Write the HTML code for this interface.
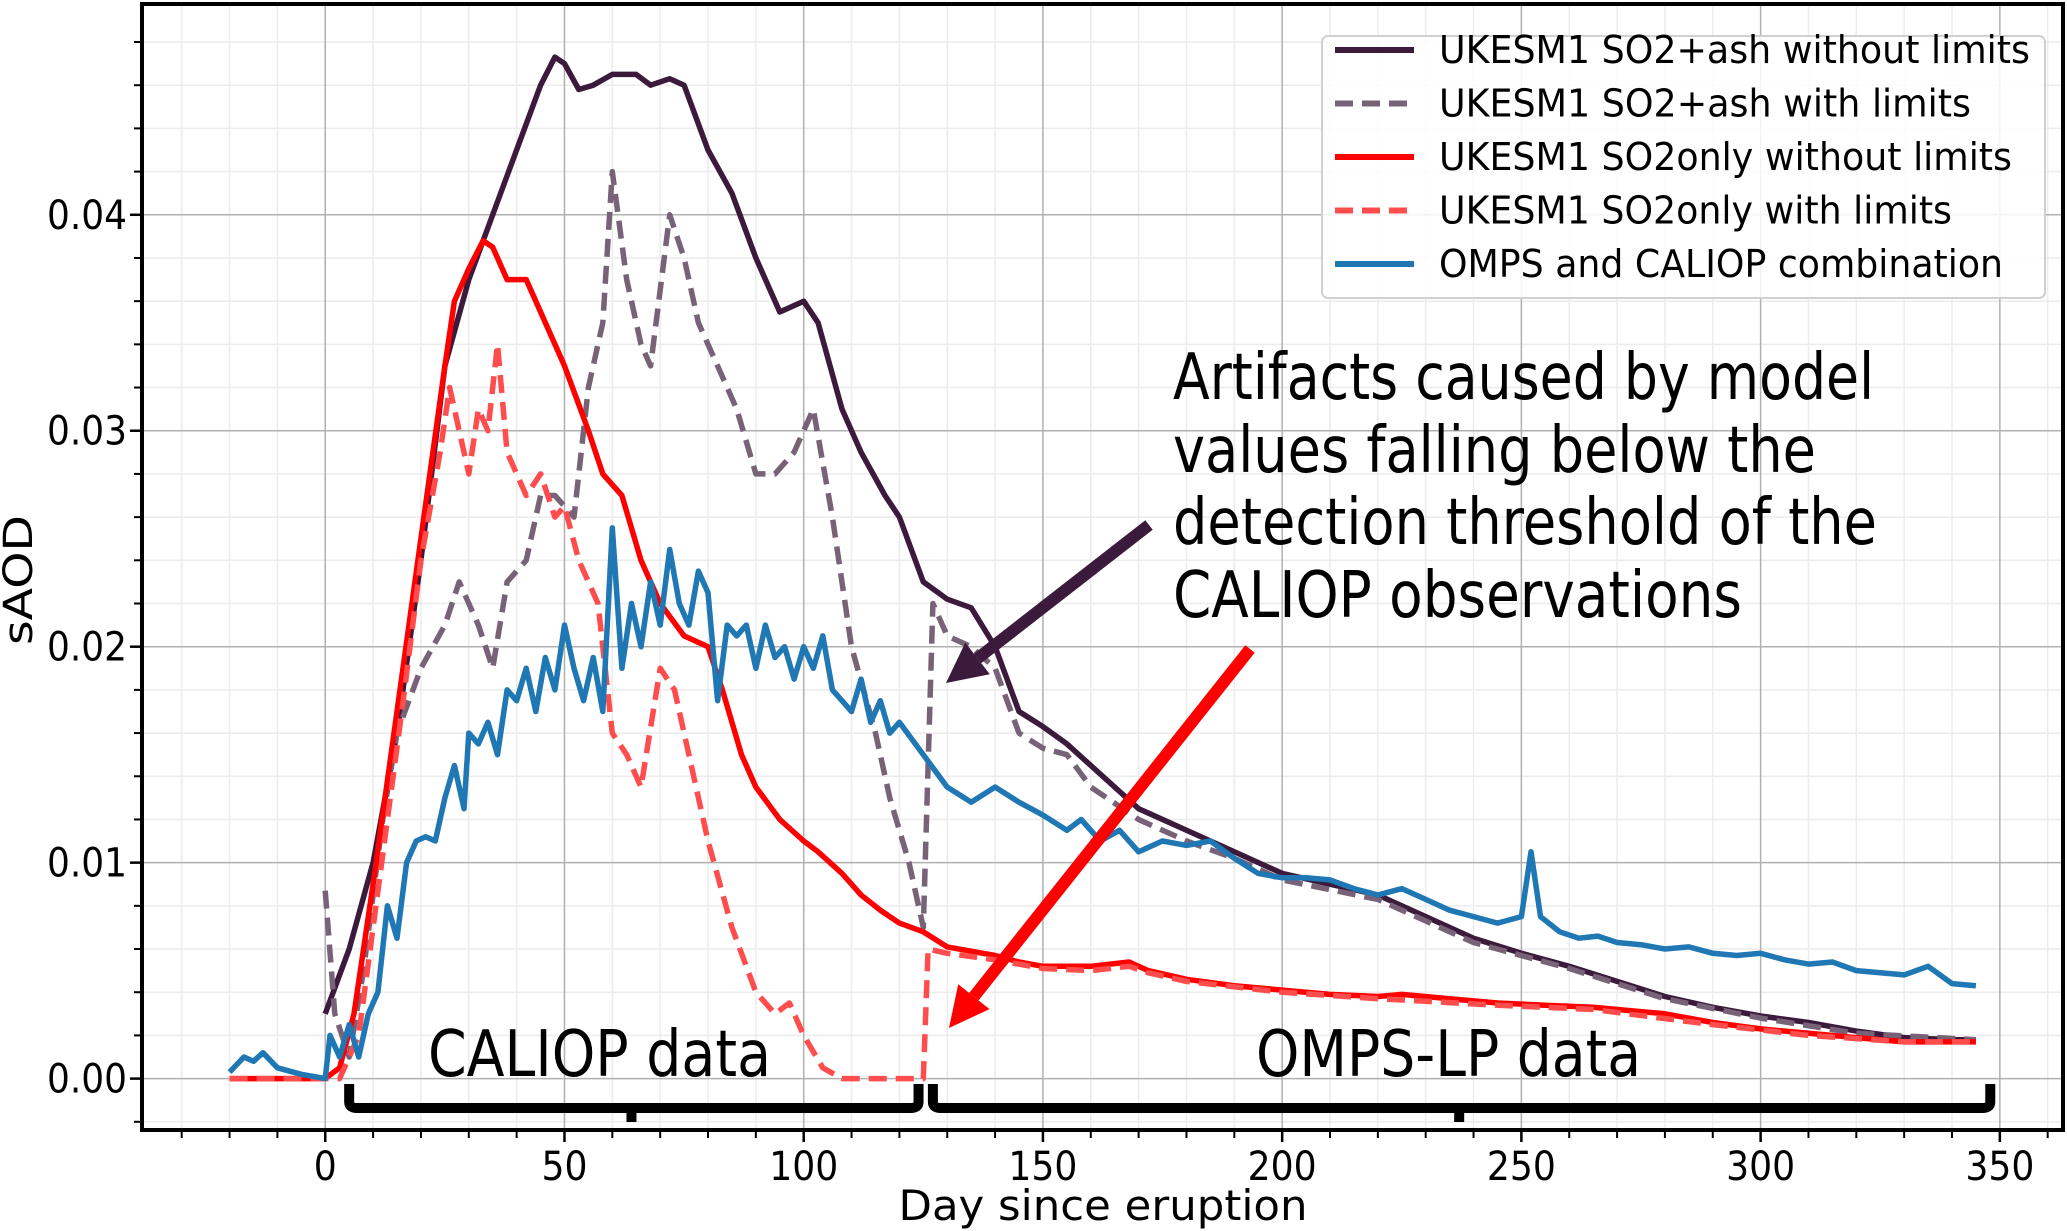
<!DOCTYPE html>
<html><head><meta charset="utf-8"><style>
html,body{margin:0;padding:0;background:#fff;}
svg{display:block;font-family:"DejaVu Sans","Liberation Sans",sans-serif;}
</style></head><body>
<svg id="chart" width="2067" height="1231" viewBox="0 0 2067 1231" xmlns="http://www.w3.org/2000/svg">
<g id="grid"></g>
<g id="series"></g>
<g id="axes"></g>
<g id="annot"></g>
<g id="legend"></g>
</svg>
<script>
const xTicks=[0,50,100,150,200,250,300,350];
const yTicks=[0,0.01,0.02,0.03,0.04];
const yTickLabels=["0.00","0.01","0.02","0.03","0.04"];
const ashNoLimDays=[0,5,10,15,20,25,30,35,40,45,48,50,53,56,60,65,68,72,75,80,85,90,95,100,103,108,112,117,120,125,130,135,140,145,150,155,160,170,180,190,200,210,220,230,240,250,260,270,280,290,300,310,320,330,340,345];
const ashNoLimVals=[0.003,0.006,0.010,0.016,0.024,0.033,0.037,0.040,0.043,0.046,0.0473,0.047,0.0458,0.046,0.0465,0.0465,0.046,0.0463,0.046,0.043,0.041,0.038,0.0355,0.036,0.035,0.031,0.029,0.027,0.026,0.023,0.0222,0.0218,0.020,0.017,0.0163,0.0155,0.0145,0.0125,0.0115,0.0105,0.0095,0.009,0.0085,0.0075,0.0065,0.0058,0.0052,0.0045,0.0038,0.0033,0.0029,0.0026,0.0022,0.0019,0.0018,0.0018];
const ashLimDays=[0,2,5,8,12,15,20,25,28,32,35,38,42,45,48,52,55,58,60,63,66,68,72,75,78,82,86,90,94,98,102,106,110,115,118,122,125,127,130,135,140,145,150,155,160,170,180,190,200,220,240,260,280,300,320,345];
const ashLimVals=[0.0087,0.003,0.001,0.005,0.012,0.016,0.019,0.021,0.023,0.021,0.019,0.023,0.024,0.027,0.027,0.026,0.032,0.035,0.042,0.037,0.034,0.033,0.040,0.038,0.035,0.033,0.031,0.028,0.028,0.029,0.031,0.026,0.020,0.016,0.013,0.010,0.007,0.022,0.0205,0.020,0.019,0.016,0.0153,0.015,0.0135,0.012,0.011,0.0102,0.0092,0.0083,0.0063,0.0051,0.0037,0.0028,0.0021,0.0018];
const so2NoLimDays=[-20,0,3,6,10,15,20,25,27,30,33,35,38,42,45,50,55,58,62,66,70,75,80,83,87,90,95,100,103,108,112,116,120,125,130,135,140,145,150,160,168,172,180,190,200,210,220,225,235,245,255,265,280,290,300,310,320,330,345];
const so2NoLimVals=[0,0,0.0005,0.003,0.009,0.017,0.025,0.033,0.036,0.0375,0.0388,0.0385,0.037,0.037,0.0355,0.033,0.030,0.028,0.027,0.024,0.022,0.0205,0.020,0.018,0.015,0.0135,0.012,0.011,0.0105,0.0095,0.0085,0.0078,0.0072,0.0068,0.0061,0.0059,0.0057,0.0054,0.0052,0.0052,0.0054,0.005,0.0046,0.0043,0.0041,0.0039,0.0038,0.0039,0.0037,0.0035,0.0034,0.0033,0.003,0.0026,0.0023,0.0021,0.0019,0.0017,0.0017];
const so2LimDays=[-20,3,7,10,13,16,20,24,26,28,30,32,34,36,38,42,45,48,50,53,57,60,63,66,70,73,76,80,85,90,94,97,100,104,108,125,126,130,140,150,160,168,172,180,200,220,245,265,290,310,330,345];
const so2LimVals=[0,0,0.002,0.007,0.012,0.017,0.024,0.029,0.032,0.030,0.028,0.031,0.030,0.034,0.029,0.027,0.028,0.026,0.0265,0.024,0.022,0.016,0.015,0.0135,0.019,0.018,0.015,0.011,0.007,0.004,0.003,0.0035,0.002,0.0005,0,0,0.006,0.0058,0.0055,0.0051,0.005,0.0052,0.0049,0.0045,0.004,0.0037,0.0034,0.0032,0.0025,0.002,0.0017,0.0017];
const obsDays=[-20,-17,-15,-13,-10,-5,0,1,3,5,7,9,11,13,15,17,19,21,23,25,27,29,30,32,34,36,38,40,42,44,46,48,50,52,54,56,58,60,62,64,66,68,70,72,74,76,78,80,82,84,86,88,90,92,94,96,98,100,102,104,106,108,110,112,114,116,118,120,125,130,135,140,145,150,155,158,162,166,170,175,180,185,190,195,200,205,210,215,220,225,230,235,240,245,250,252,254,258,262,266,270,275,280,285,290,295,300,305,310,315,320,325,330,335,340,345];
const obsVals=[0.0003,0.001,0.0008,0.0012,0.0005,0.0002,0,0.002,0.001,0.0025,0.001,0.003,0.004,0.008,0.0065,0.010,0.011,0.0112,0.011,0.013,0.0145,0.0125,0.016,0.0155,0.0165,0.015,0.018,0.0175,0.019,0.017,0.0195,0.018,0.021,0.019,0.0175,0.0195,0.017,0.0255,0.019,0.022,0.020,0.023,0.021,0.0245,0.022,0.021,0.0235,0.0225,0.0175,0.021,0.0205,0.021,0.019,0.021,0.0195,0.020,0.0185,0.020,0.019,0.0205,0.018,0.0175,0.017,0.0185,0.0165,0.0175,0.016,0.0165,0.015,0.0135,0.0128,0.0135,0.0128,0.0122,0.0115,0.012,0.011,0.0115,0.0105,0.011,0.0108,0.011,0.0102,0.0095,0.0093,0.0093,0.0092,0.0088,0.0085,0.0088,0.0083,0.0078,0.0075,0.0072,0.0075,0.0105,0.0075,0.0068,0.0065,0.0066,0.0063,0.0062,0.006,0.0061,0.0058,0.0057,0.0058,0.0055,0.0053,0.0054,0.005,0.0049,0.0048,0.0052,0.0044,0.0043];

const NS="http://www.w3.org/2000/svg";
const L=142,R=2063,T=4,B=1130;
const xMin=-38.3,xMax=363.2,yMin=-0.00238,yMax=0.04976;
function X(d){return L+(d-xMin)/(xMax-xMin)*(R-L);}
function Y(v){return B-(v-yMin)/(yMax-yMin)*(B-T);}
function mk(tag,parent,attrs){const e=document.createElementNS(NS,tag);for(const k in attrs)e.setAttribute(k,attrs[k]);parent.appendChild(e);return e;}
const grid=document.getElementById('grid'),axes=document.getElementById('axes'),ser=document.getElementById('series'),ann=document.getElementById('annot'),leg=document.getElementById('legend');

// minor grid
for(let d=-30;d<=360;d+=10){if(d%50===0)continue;const l=mk('line',grid,{x1:X(d),x2:X(d),y1:T,y2:B,stroke:'#ececec','stroke-width':1.5});
 const t=mk('line',axes,{x1:X(d),x2:X(d),y1:B,y2:B+8,stroke:'#000','stroke-width':2});}
for(let i=-1;i<=24;i++){const v=i*0.002;if(i%5===0)continue;const l=mk('line',grid,{x1:L,x2:R,y1:Y(v),y2:Y(v),stroke:'#ececec','stroke-width':1.5});
 const t=mk('line',axes,{x1:L-8,x2:L,y1:Y(v),y2:Y(v),stroke:'#000','stroke-width':2});}
xTicks.forEach(d=>{const l=mk('line',grid,{x1:X(d),x2:X(d),y1:T,y2:B,stroke:'#b0b0b0','stroke-width':1.5});
 const t=mk('line',axes,{x1:X(d),x2:X(d),y1:B,y2:B+12,stroke:'#000','stroke-width':2.5});
 const s=String(d);const tx=mk('text',axes,{x:X(d),y:1180,'font-size':40,'text-anchor':'middle',textLength:s.length*23,lengthAdjust:'spacingAndGlyphs'});tx.textContent=s;});
yTicks.forEach((v,i)=>{const l=mk('line',grid,{x1:L,x2:R,y1:Y(v),y2:Y(v),stroke:'#b0b0b0','stroke-width':1.5});
 const t=mk('line',axes,{x1:L-12,x2:L,y1:Y(v),y2:Y(v),stroke:'#000','stroke-width':2.5});
 const tx=mk('text',axes,{x:127,y:Y(v)+14,'font-size':40,'text-anchor':'end',textLength:80,lengthAdjust:'spacingAndGlyphs'});tx.textContent=yTickLabels[i];});
const fr=mk('rect',axes,{x:L,y:T,width:R-L,height:B-T,fill:'none',stroke:'#000','stroke-width':4});
const xt=mk('text',axes,{x:1103,y:1220,'font-size':42,'text-anchor':'middle',textLength:409,lengthAdjust:'spacingAndGlyphs'});xt.textContent='Day since eruption';
const yt=mk('text',axes,{x:0,y:0,'font-size':40,'text-anchor':'middle',transform:'translate(32,580) rotate(-90)',textLength:130,lengthAdjust:'spacingAndGlyphs'});yt.textContent='sAOD';

function path(days,vals,color,dash,name){let d='';days.forEach((x,i)=>{d+=(i?'L':'M')+X(x).toFixed(1)+','+Y(vals[i]).toFixed(1);});
 const p=mk('path',ser,{d:d,fill:'none',stroke:color,'stroke-width':5.5,'stroke-linejoin':'round'});if(dash)p.setAttribute('stroke-dasharray',dash);
 }
path(ashNoLimDays,ashNoLimVals,'#3b1a3c',null,'line-so2-ash-without-limits');
path(ashLimDays,ashLimVals,'#786277','18,9','line-so2-ash-with-limits');
path(so2NoLimDays,so2NoLimVals,'#ff0000',null,'line-so2only-without-limits');
path(so2LimDays,so2LimVals,'#ff4d4d','18,9','line-so2only-with-limits');
path(obsDays,obsVals,'#1f77b4',null,'line-omps-caliop');

// annotations
const lines=[['Artifacts caused by model',399,701],['values falling below the',472,643],['detection threshold of the',544,704],['CALIOP observations',617,569]];
lines.forEach(a=>{const t=mk('text',ann,{x:1173,y:a[1],'font-size':64,textLength:a[2],lengthAdjust:'spacingAndGlyphs'});t.textContent=a[0];});
const c1=mk('text',ann,{x:428,y:1076,'font-size':64,textLength:343,lengthAdjust:'spacingAndGlyphs'});c1.textContent='CALIOP data';
const c2=mk('text',ann,{x:1256,y:1076,'font-size':64,textLength:385,lengthAdjust:'spacingAndGlyphs'});c2.textContent='OMPS-LP data';
function bracket(a,b,m,name){const y0=1084,y1=1108;const d=`M${X(a)},${y0} L${X(a)},${y1-6} Q${X(a)},${y1} ${X(a)+8},${y1} L${X(b)-8},${y1} Q${X(b)},${y1} ${X(b)},${y1-6} L${X(b)},${y0} M${X(m)},${y1} L${X(m)},${y1+14}`;
 const p=mk('path',ann,{d:d,fill:'none',stroke:'#000','stroke-width':10});}
bracket(5,124,64,'caliop-bracket');bracket(127,348,237,'omps-bracket');
function arrow(x1,y1,x2,y2,color,name){const g=mk('g',ann,{});
 const dx=x2-x1,dy=y2-y1,len=Math.hypot(dx,dy),ux=dx/len,uy=dy/len,hl=40,hw=20;
 const bx=x2-ux*hl,by=y2-uy*hl;
 mk('line',g,{x1:x1,y1:y1,x2:bx,y2:by,stroke:color,'stroke-width':12});
 mk('polygon',g,{points:`${x2},${y2} ${bx-uy*hw},${by+ux*hw} ${bx+uy*hw},${by-ux*hw}`,fill:color});}
arrow(1149,525,946,683,'#3b1a3c','dark-arrow');
arrow(1250,649,949,1028,'#ff0000','red-arrow');

// legend
const lb=mk('rect',leg,{x:1322,y:36,width:723,height:262,rx:6,fill:'#fff','fill-opacity':0.85,stroke:'#d0d0d0','stroke-width':2});
const legNames=['UKESM1 SO2+ash without limits','UKESM1 SO2+ash with limits','UKESM1 SO2only without limits','UKESM1 SO2only with limits','OMPS and CALIOP combination'];
const legColors=['#3b1a3c','#786277','#ff0000','#ff4d4d','#1f77b4'];
const legDash=[null,'18,9',null,'18,9',null];
const legW=[591,532,573,513,564];
legNames.forEach((n,i)=>{const y=50+i*53.5;const g=mk('g',leg,{});
 const l=mk('line',g,{x1:1335,x2:1414,y1:y,y2:y,stroke:legColors[i],'stroke-width':6});if(legDash[i])l.setAttribute('stroke-dasharray',legDash[i]);
 const t=mk('text',g,{x:1439,y:y+13,'font-size':38,textLength:legW[i],lengthAdjust:'spacingAndGlyphs'});t.textContent=n;});
</script>
</body></html>
